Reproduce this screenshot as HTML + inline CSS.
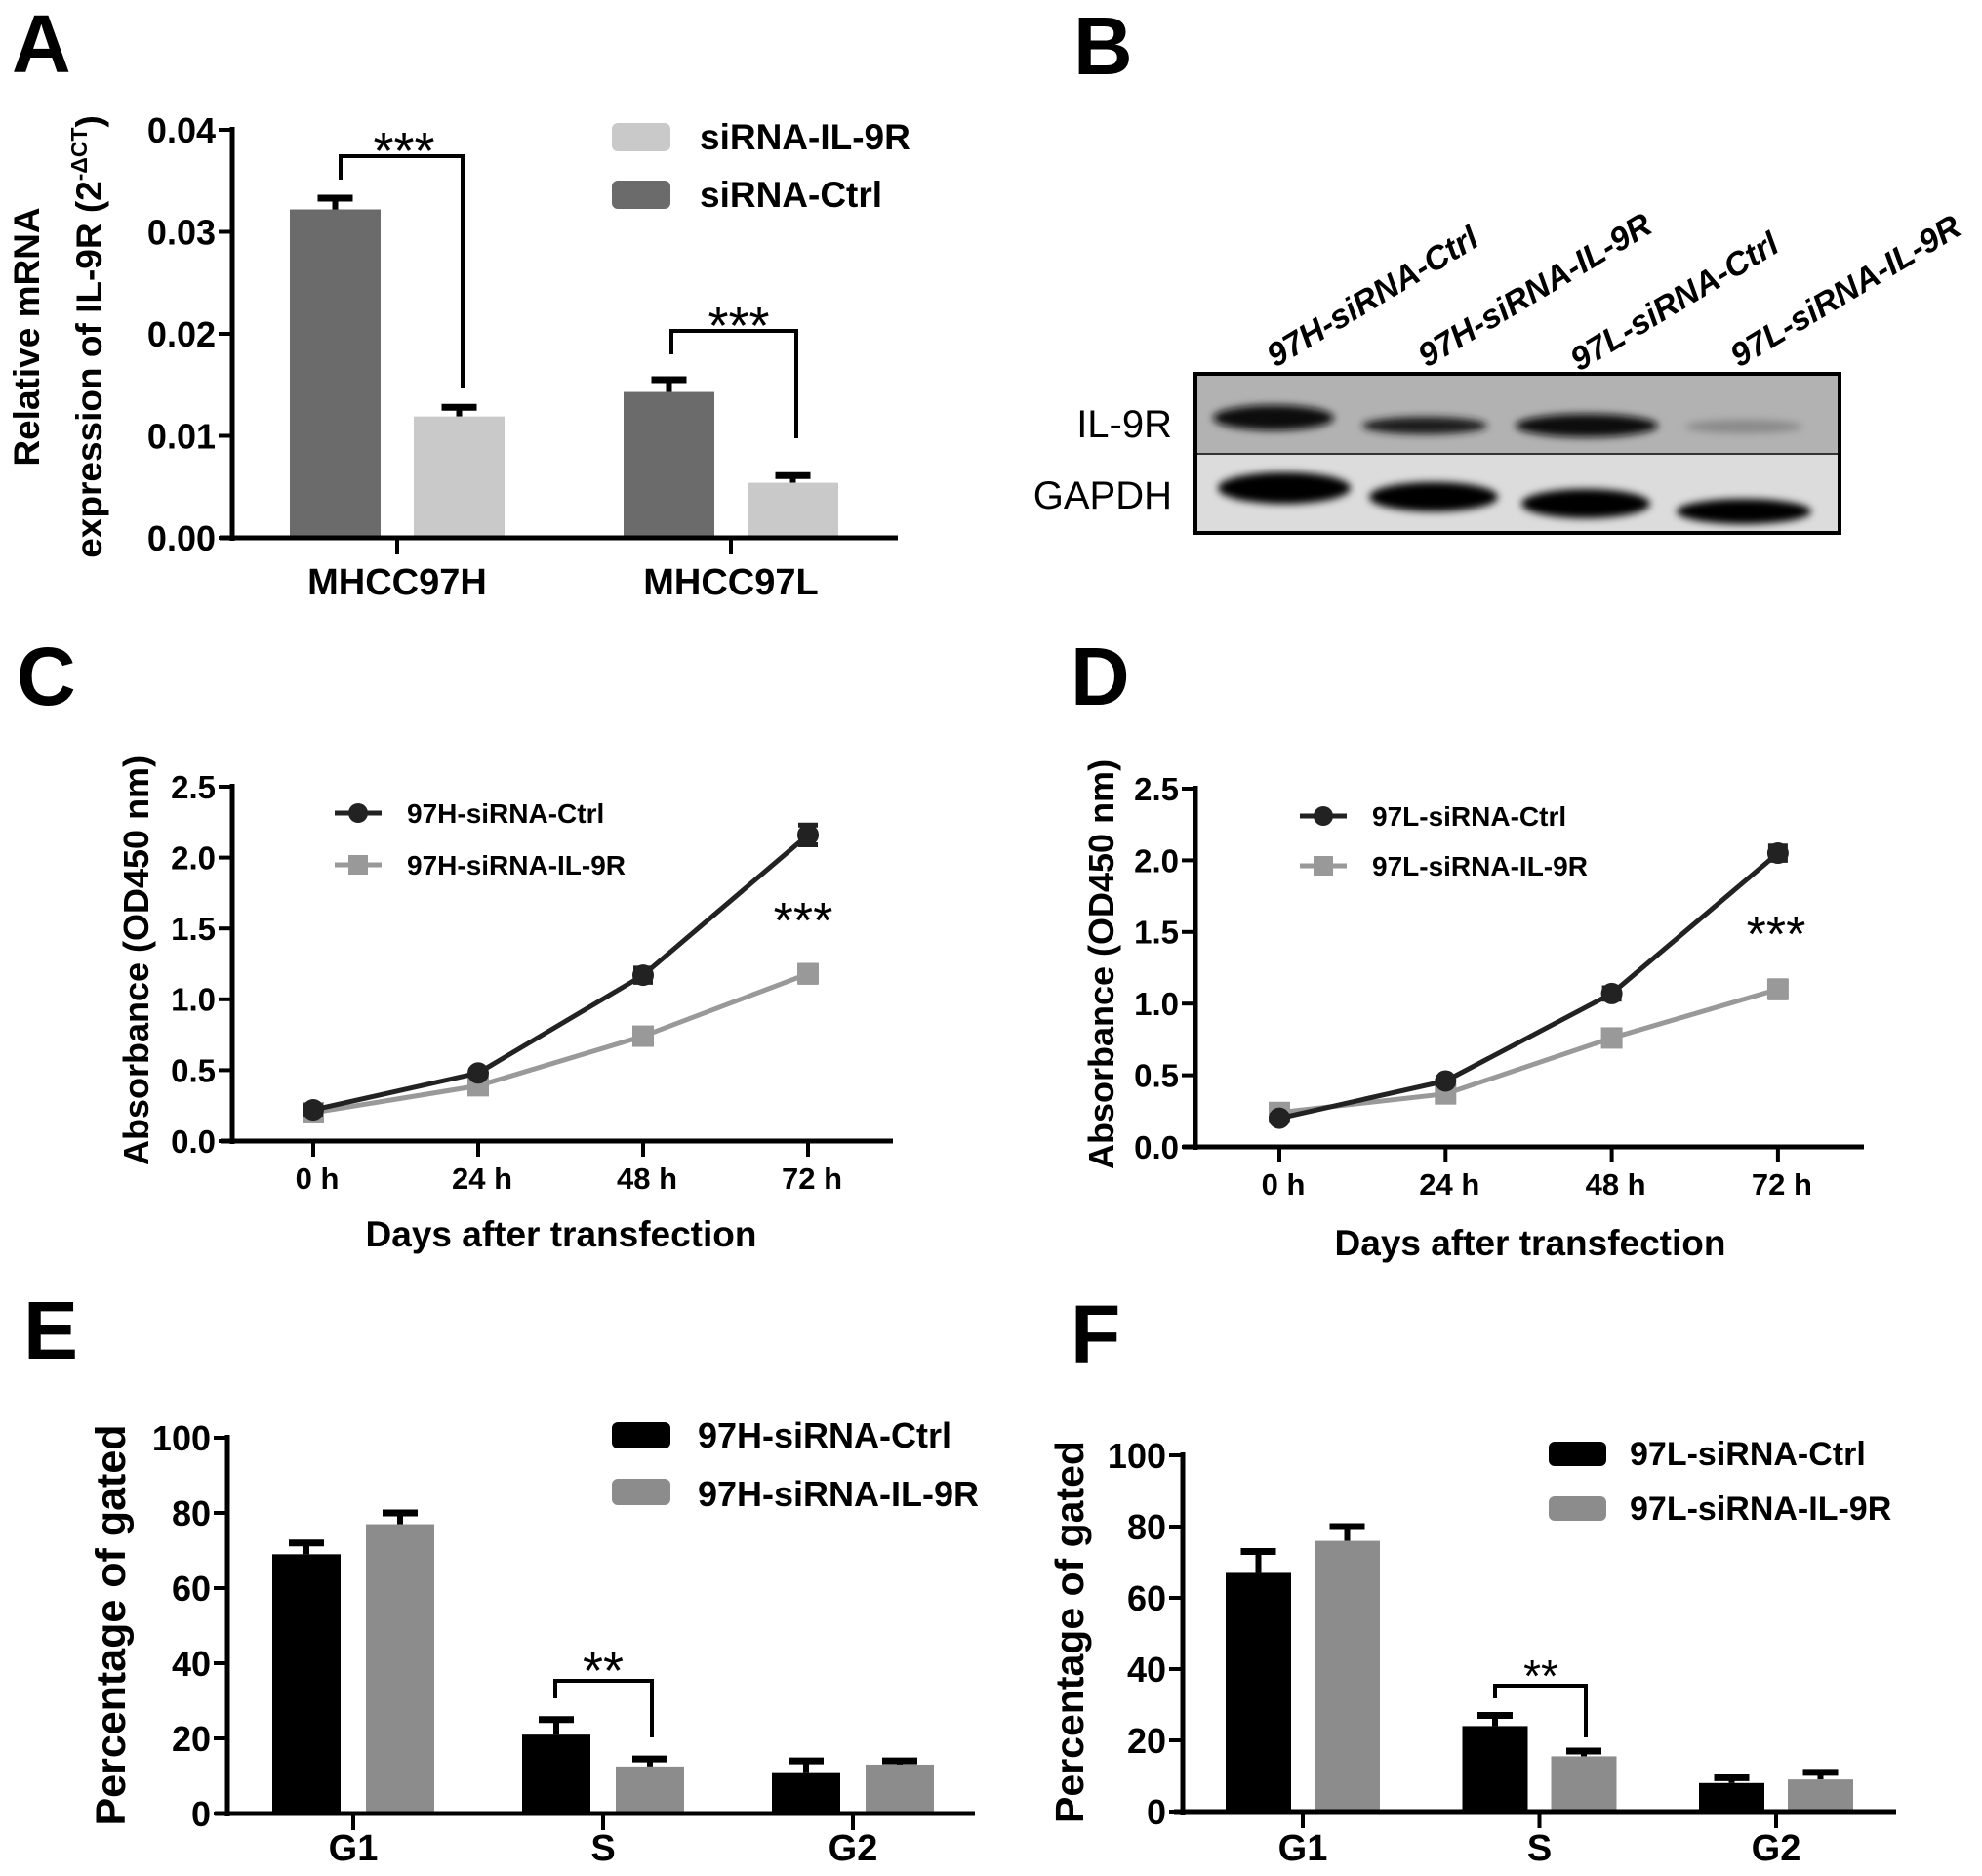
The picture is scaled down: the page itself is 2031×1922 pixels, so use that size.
<!DOCTYPE html>
<html><head><meta charset="utf-8">
<style>
html,body{margin:0;padding:0;background:#fff;}
svg{display:block;font-family:"Liberation Sans",Arial,sans-serif;}
</style></head>
<body>
<svg id="fig" width="2031" height="1922" viewBox="0 0 2031 1922" xmlns="http://www.w3.org/2000/svg">
<defs>
<filter id="blur" x="-20%" y="-50%" width="140%" height="200%"><feGaussianBlur stdDeviation="4"/></filter>
</defs>
<g font-weight="bold" font-size="84">
<text x="12" y="74">A</text>
<text x="1100" y="76">B</text>
<text x="17" y="722">C</text>
<text x="1097" y="722">D</text>
<text x="24" y="1392">E</text>
<text x="1097" y="1396">F</text>
</g>
<!-- Panel B western blot -->
<g id="blot">
<rect x="1225" y="383" width="660" height="82" fill="#b2b2b2"/>
<rect x="1225" y="465" width="660" height="81" fill="#dcdcdc"/>
<g filter="url(#blur)">
<ellipse cx="1305" cy="428" rx="62" ry="13" fill="#111"/>
<ellipse cx="1460" cy="436" rx="64" ry="9" fill="#1a1a1a"/>
<ellipse cx="1626" cy="436" rx="73" ry="12" fill="#111"/>
<ellipse cx="1787" cy="437" rx="60" ry="7" fill="#8a8a8a"/>
<ellipse cx="1316" cy="500" rx="68" ry="16" fill="#050505"/>
<ellipse cx="1469" cy="509" rx="66" ry="15" fill="#050505"/>
<ellipse cx="1625" cy="516" rx="66" ry="15" fill="#050505"/>
<ellipse cx="1787" cy="524" rx="69" ry="13" fill="#050505"/>
</g>
<line x1="1225" y1="465" x2="1885" y2="465" stroke="#333" stroke-width="2"/>
<rect x="1225" y="383" width="660" height="163" fill="none" stroke="#000" stroke-width="4"/>
<text x="1201" y="448" font-size="40" text-anchor="end">IL-9R</text>
<text x="1201" y="521" font-size="40" text-anchor="end">GAPDH</text>
<g font-size="34" font-weight="bold" font-style="italic">
<text transform="translate(1307,377) rotate(-31)">97H-siRNA-Ctrl</text>
<text transform="translate(1462,377) rotate(-31)">97H-siRNA-IL-9R</text>
<text transform="translate(1618,381) rotate(-31)">97L-siRNA-Ctrl</text>
<text transform="translate(1782,377) rotate(-31)">97L-siRNA-IL-9R</text>
</g>
</g>
<g id="pA"></g><g id="pC"></g><g id="pD"></g><g id="pE"></g><g id="pF"></g>
</svg>
<script>
// ---- Panel A data ----
const aCategories = ["MHCC97H", "MHCC97L"];
const aCtrl = [0.0322, 0.0143];
const aCtrlErr = [0.0011, 0.0012];
const aSi = [0.0119, 0.0054];
const aSiErr = [0.0009, 0.0007];
const aTicks = ["0.00", "0.01", "0.02", "0.03", "0.04"];
// ---- Panel C data ----
const cTimes = ["0 h", "24 h", "48 h", "72 h"];
const cCtrl = [0.22, 0.48, 1.17, 2.16];
const cCtrlErr = [0.03, 0.02, 0.05, 0.07];
const cSi = [0.20, 0.39, 0.74, 1.18];
const cSiErr = [0.02, 0.02, 0.03, 0.06];
// ---- Panel D data ----
const dCtrl = [0.20, 0.46, 1.07, 2.05];
const dCtrlErr = [0.02, 0.02, 0.04, 0.05];
const dSi = [0.24, 0.37, 0.76, 1.10];
const dSiErr = [0.02, 0.02, 0.03, 0.06];
const lineTicks = ["0.0", "0.5", "1.0", "1.5", "2.0", "2.5"];
// ---- Panel E data ----
const phases = ["G1", "S", "G2"];
const eCtrl = [69, 21, 11];
const eCtrlErr = [3, 4, 3];
const eSi = [77, 12.5, 13];
const eSiErr = [3, 2, 1];
// ---- Panel F data ----
const fCtrl = [67, 24, 8];
const fCtrlErr = [6, 3, 1.5];
const fSi = [76, 15.5, 9];
const fSiErr = [4, 1.5, 2];
const pctTicks = ["0", "20", "40", "60", "80", "100"];

const NS = "http://www.w3.org/2000/svg";
function mk(parent, tag, attrs, txt) {
  const e = document.createElementNS(NS, tag);
  for (const k in attrs) e.setAttribute(k, attrs[k]);
  if (txt !== undefined) e.textContent = txt;
  parent.appendChild(e);
  return e;
}
function axisY(g, x, y0, y1, ticks, maxV, fs, name) {
  const ax = mk(g, "line", {x1: x, y1: y1 - 3, x2: x, y2: y0 + 3, stroke: "#000", "stroke-width": 5});
  
  
  ticks.forEach((t, i) => {
    const y = y0 - (parseFloat(t) / maxV) * (y0 - y1);
    mk(g, "line", {x1: x - 14, y1: y, x2: x, y2: y, stroke: "#000", "stroke-width": 4});
    const tl = mk(g, "text", {x: x - 17, y: y + fs * 0.36, "text-anchor": "end", "font-size": fs, "font-weight": "bold"}, t);
    
    
  });
}
function bracket(g, xl, yl, xr, yr, ytop, star, sx, sy, fs, name) {
  const p = mk(g, "path", {d: `M${xl},${yl} V${ytop} H${xr} V${yr}`, fill: "none", stroke: "#000", "stroke-width": 4});
  
  
  const s = mk(g, "text", {x: sx, y: sy, "text-anchor": "middle", "font-size": fs}, star);
  
  
}
function barChart(cfg) {
  const g = document.getElementById(cfg.id);
  const sy = v => cfg.y0 - v / cfg.maxV * (cfg.y0 - cfg.y1);
  cfg.cats.forEach((c, i) => {
    const cx = cfg.catX0 + i * cfg.catStep;
    [[cfg.s1, cfg.e1, cfg.c1, -1, "ctrl"], [cfg.s2, cfg.e2, cfg.c2, 1, "sirna"]].forEach(([vals, errs, col, side, nm]) => {
      const v = vals[i], e = errs[i];
      const bx = side < 0 ? cx - cfg.gap / 2 - cfg.bw : cx + cfg.gap / 2;
      const top = sy(v), etop = sy(v + e);
      mk(g, "line", {x1: bx + cfg.bw / 2, y1: etop, x2: bx + cfg.bw / 2, y2: top, stroke: "#000", "stroke-width": 6});
      mk(g, "line", {x1: bx + cfg.bw / 2 - 18, y1: etop, x2: bx + cfg.bw / 2 + 18, y2: etop, stroke: "#000", "stroke-width": 7});
      const r = mk(g, "rect", {x: bx, y: top, width: cfg.bw, height: cfg.y0 - top, fill: col});
      
      
    });
    mk(g, "line", {x1: cx, y1: cfg.y0, x2: cx, y2: cfg.y0 + 17, stroke: "#000", "stroke-width": 4});
    const t = mk(g, "text", {x: cx, y: cfg.labY, "text-anchor": "middle", "font-size": cfg.catFs, "font-weight": "bold"}, c);
    
    
  });
  const xa = mk(g, "line", {x1: cfg.xa0, y1: cfg.y0, x2: cfg.xa1, y2: cfg.y0, stroke: "#000", "stroke-width": 5});
  
  
  axisY(g, cfg.axX, cfg.y0, cfg.y1, cfg.ticks, cfg.maxV, cfg.tickFs, cfg.id);
  return {g, sy};
}
function legendBox(g, x, y, w, h, col, label, tx, ty, fs) {
  const r = mk(g, "rect", {x, y, width: w, height: h, rx: 6, fill: col});
  
  
  const t = mk(g, "text", {x: tx, y: ty, "font-size": fs, "font-weight": "bold"}, label);
  
  
}
function yTitle(g, lines, cx, cy, fs, name) {
  lines.forEach((l, i) => {
    const t = mk(g, "text", {transform: `translate(${l.x},${cy}) rotate(-90)`, "text-anchor": "middle", "font-size": fs, "font-weight": "bold"});
    
    
    if (l.sup) {
      t.appendChild(document.createTextNode(l.t));
      mk(t, "tspan", {dy: -15, "font-size": fs * 0.62}, l.sup);
      mk(t, "tspan", {dy: 15}, ")");
    } else t.textContent = l.t;
  });
}

// Panel A
(function () {
  const {g} = barChart({id: "pA", cats: aCategories, s1: aCtrl, e1: aCtrlErr, s2: aSi, e2: aSiErr,
    c1: "#6b6b6b", c2: "#c9c9c9", y0: 551, y1: 133, maxV: 0.04, catX0: 407, catStep: 342, bw: 93, gap: 34,
    labY: 609, catFs: 38, xa0: 225, xa1: 920, axX: 238, ticks: aTicks, tickFs: 36});
  legendBox(g, 627, 126, 60, 29, "#c9c9c9", "siRNA-IL-9R", 717, 153, 37);
  legendBox(g, 627, 185, 60, 29, "#6b6b6b", "siRNA-Ctrl", 717, 212, 37);
  bracket(g, 349, 184, 474, 398, 160, "***", 414, 173, 54, "a-97h");
  bracket(g, 688, 363, 816, 449, 339, "***", 757, 352, 54, "a-97l");
  yTitle(g, [{t: "Relative mRNA", x: 40}, {t: "expression of IL-9R (2", sup: "-\u0394CT", x: 104}], 0, 345, 37, "a-y-axis-title");
})();

// Line charts
function lineChart(id, x0axis, xa0, xa1, y0, y1, tickXs0, tickStep, ctrl, ctrlE, si, siE, names, leg, star, titleX, titleY, ytx, yty) {
  const g = document.getElementById(id);
  const sy = v => y0 - v / 2.5 * (y0 - y1);
  const sx = i => tickXs0 + i * tickStep;
  const xa = mk(g, "line", {x1: xa0, y1: y0, x2: xa1, y2: y0, stroke: "#000", "stroke-width": 5});
  
  
  axisY(g, x0axis, y0, y1, lineTicks, 2.5, 33, id);
  cTimes.forEach((t, i) => {
    mk(g, "line", {x1: sx(i), y1: y0, x2: sx(i), y2: y0 + 16, stroke: "#000", "stroke-width": 4});
    const tl = mk(g, "text", {x: sx(i) + 4, y: y0 + 49, "text-anchor": "middle", "font-size": 31, "font-weight": "bold"}, t);
    
    
  });
  const series = [[si, siE, "#999", "sq", "sirna"], [ctrl, ctrlE, "#222", "ci", "ctrl"]];
  series.forEach(([v, e, col, m, nm]) => {
    const pl = mk(g, "polyline", {points: v.map((d, i) => sx(i) + "," + sy(d)).join(" "), fill: "none", stroke: col, "stroke-width": 5});
    
    
    v.forEach((d, i) => {
      mk(g, "line", {x1: sx(i) - 10, y1: sy(d + e[i]), x2: sx(i) + 10, y2: sy(d + e[i]), stroke: col, "stroke-width": 5});
      mk(g, "line", {x1: sx(i), y1: sy(d + e[i]), x2: sx(i), y2: sy(d - e[i]), stroke: col, "stroke-width": 4});
      mk(g, "line", {x1: sx(i) - 10, y1: sy(d - e[i]), x2: sx(i) + 10, y2: sy(d - e[i]), stroke: col, "stroke-width": 5});
      const p = m === "sq" ? mk(g, "rect", {x: sx(i) - 11, y: sy(d) - 11, width: 22, height: 22, fill: col})
                           : mk(g, "circle", {cx: sx(i), cy: sy(d), r: 11, fill: col});
      
      
    });
  });
  [[leg.y1, "#222", "ci", names[0]], [leg.y2, "#999", "sq", names[1]]].forEach(([y, col, m, n]) => {
    mk(g, "line", {x1: leg.x0, y1: y, x2: leg.x0 + 48, y2: y, stroke: col, "stroke-width": 5});
    if (m === "ci") mk(g, "circle", {cx: leg.x0 + 24, cy: y, r: 10, fill: col});
    else mk(g, "rect", {x: leg.x0 + 14, y: y - 10, width: 20, height: 20, fill: col});
    const t = mk(g, "text", {x: leg.tx, y: y + 10, "font-size": 28, "font-weight": "bold"}, n);
    
    
  });
  const s = mk(g, "text", {x: star[0], y: star[1] + 24, "text-anchor": "middle", "font-size": 52}, "***");
  
  
  const xt = mk(g, "text", {x: titleX, y: titleY, "text-anchor": "middle", "font-size": 37, "font-weight": "bold"}, "Days after transfection");
  
  
  const yt = mk(g, "text", {transform: `translate(${ytx},${yty}) rotate(-90)`, "text-anchor": "middle", "font-size": 36, "font-weight": "bold"}, "Absorbance (OD450 nm)");
  
  
}
lineChart("pC", 238, 226, 915, 1169, 806, 321, 169, cCtrl, cCtrlErr, cSi, cSiErr,
  ["97H-siRNA-Ctrl", "97H-siRNA-IL-9R"], {x0: 343, y1: 833, y2: 886, tx: 417}, [823, 937], 575, 1277, 152, 984);
lineChart("pD", 1225, 1212, 1910, 1175, 808, 1311, 170.3, dCtrl, dCtrlErr, dSi, dSiErr,
  ["97L-siRNA-Ctrl", "97L-siRNA-IL-9R"], {x0: 1332, y1: 836, y2: 887, tx: 1406}, [1820, 951], 1568, 1286, 1141, 988);

// Panel E
(function () {
  const {g} = barChart({id: "pE", cats: phases, s1: eCtrl, e1: eCtrlErr, s2: eSi, e2: eSiErr,
    c1: "#000", c2: "#8c8c8c", y0: 1858, y1: 1473, maxV: 100, catX0: 362, catStep: 256, bw: 70, gap: 26,
    labY: 1906, catFs: 38, xa0: 220, xa1: 999, axX: 233, ticks: pctTicks, tickFs: 36});
  legendBox(g, 627, 1457, 60, 27, "#000", "97H-siRNA-Ctrl", 715, 1483, 36);
  legendBox(g, 627, 1515, 60, 27, "#8c8c8c", "97H-siRNA-IL-9R", 715, 1543, 36);
  bracket(g, 569, 1740, 668, 1780, 1722, "**", 618, 1730, 54, "e-s-phase");
  yTitle(g, [{t: "Percentage of gated", x: 128}], 0, 1665, 43, "e-y-axis-title");
})();
// Panel F
(function () {
  const {g} = barChart({id: "pF", cats: phases, s1: fCtrl, e1: fCtrlErr, s2: fSi, e2: fSiErr,
    c1: "#000", c2: "#8c8c8c", y0: 1856, y1: 1491, maxV: 100, catX0: 1335, catStep: 242.5, bw: 67, gap: 24,
    labY: 1906, catFs: 38, xa0: 1203, xa1: 1943, axX: 1212, ticks: pctTicks, tickFs: 36});
  legendBox(g, 1587, 1477, 59, 25, "#000", "97L-siRNA-Ctrl", 1670, 1501, 34);
  legendBox(g, 1587, 1533, 59, 25, "#8c8c8c", "97L-siRNA-IL-9R", 1670, 1557, 34);
  bracket(g, 1532, 1740, 1625, 1780, 1727, "**", 1579, 1733, 46, "f-s-phase");
  yTitle(g, [{t: "Percentage of gated", x: 1110}], 0, 1672, 41, "f-y-axis-title");
})();
</script>
</body></html>
